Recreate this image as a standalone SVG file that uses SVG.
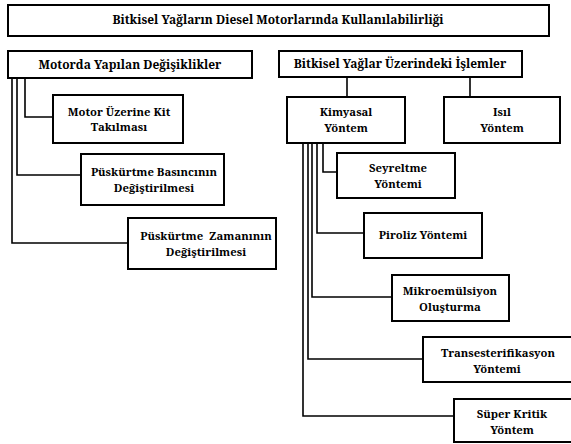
<svg xmlns="http://www.w3.org/2000/svg" width="571" height="444" viewBox="0 0 571 444">
<style>
.box{fill:#fff;stroke:#000;stroke-width:2}
.t{font-family:'Noto Serif','DejaVu Serif',serif;font-size:11.3px;font-weight:bold;fill:#000;text-anchor:middle}
.h{font-size:12px}
.c{fill:none;stroke:#000;stroke-width:1.6}
</style>
<rect width="571" height="444" fill="#fff"/>
<g id="connectors">
<polyline class="c" points="12,78 12,243 128,243"/>
<polyline class="c" points="17,78 17,175 81,175"/>
<polyline class="c" points="25,78 25,117 53,117"/>
<line class="c" x1="347" y1="77" x2="347" y2="97"/>
<line class="c" x1="470" y1="77" x2="470" y2="97"/>
<polyline class="c" points="323,143 323,172 337,172"/>
<polyline class="c" points="317,143 317,233 364,233"/>
<polyline class="c" points="312,143 312,297 392,297"/>
<polyline class="c" points="308,143 308,359 423,359"/>
<polyline class="c" points="303,143 303,416 454,416"/>
</g>
<g id="title"><rect class="box" x="8" y="5" width="541" height="31"/><text class="t h" x="278" y="24">Bitkisel Yağların Diesel Motorlarında Kullanılabilirliği</text></g>
<g id="motorda"><rect class="box" x="8" y="51" width="244" height="27"/><text class="t h" x="130" y="69">Motorda Yapılan Değişiklikler</text></g>
<g id="bitkisel"><rect class="box" x="279" y="51" width="243" height="26"/><text class="t h" x="400" y="68">Bitkisel Yağlar Üzerindeki İşlemler</text></g>
<g id="kit"><rect class="box" x="53" y="95" width="130" height="48"/><text class="t" x="119" y="116">Motor Üzerine Kit</text><text class="t" x="119" y="131">Takılması</text></g>
<g id="basinc"><rect class="box" x="81" y="154" width="143" height="51"/><text class="t" x="154" y="176">Püskürtme Basıncının</text><text class="t" x="154" y="192">Değiştirilmesi</text></g>
<g id="zaman"><rect class="box" x="128" y="218" width="148" height="51"/><text class="t" x="206" y="240" xml:space="preserve">Püskürtme  Zamanının</text><text class="t" x="206" y="256">Değiştirilmesi</text></g>
<g id="kimyasal"><rect class="box" x="287" y="97" width="118" height="46"/><text class="t" x="346" y="116">Kimyasal</text><text class="t" x="346" y="132">Yöntem</text></g>
<g id="isil"><rect class="box" x="444" y="97" width="116" height="46"/><text class="t" x="502" y="116">Isıl</text><text class="t" x="502" y="132">Yöntem</text></g>
<g id="seyreltme"><rect class="box" x="337" y="153" width="118" height="45"/><text class="t" x="398" y="172">Seyreltme</text><text class="t" x="398" y="188">Yöntemi</text></g>
<g id="piroliz"><rect class="box" x="364" y="213" width="118" height="45"/><text class="t" x="423" y="239">Piroliz Yöntemi</text></g>
<g id="mikro"><rect class="box" x="392" y="275" width="117" height="46"/><text class="t" x="450" y="295">Mikroemülsiyon</text><text class="t" x="450" y="311">Oluşturma</text></g>
<g id="trans"><rect class="box" x="423" y="337" width="152" height="45"/><text class="t" x="498" y="357">Transesterifikasyon</text><text class="t" x="497" y="373">Yöntemi</text></g>
<g id="super"><rect class="box" x="454" y="399" width="121" height="43"/><text class="t" x="512" y="418">Süper Kritik</text><text class="t" x="512" y="434">Yöntem</text></g>
</svg>
